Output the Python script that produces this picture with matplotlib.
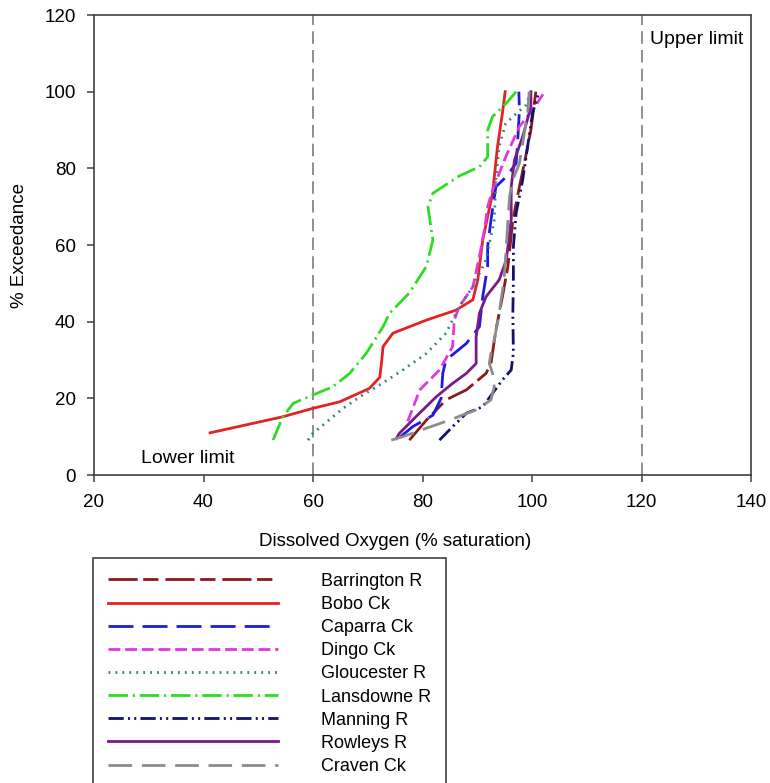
import numpy as np
import matplotlib.pyplot as plt

plt.rcParams['font.family'] = ['Liberation Sans', 'DejaVu Sans']
plt.rcParams['lines.scale_dashes'] = False

# % exceedance curves for each site: (DO % saturation, % exceedance)
barrington_x = [77.6, 80.7, 84.3, 88.0, 91.6, 92.5, 93.4, 94.6, 95.6, 96.5, 97.7, 98.6, 99.8, 100.7]
barrington_y = [9.1, 14.3, 19.6, 22.2, 26.5, 29.1, 37.8, 46.5, 54.4, 66.5, 75.2, 81.3, 90.0, 100.0]

bobo_x = [41.2, 54.5, 60.0, 64.9, 70.3, 72.2, 72.5, 72.8, 74.6, 80.7, 86.1, 89.2, 90.1, 91.0, 92.8, 93.7, 94.6, 95.1]
bobo_y = [11.0, 15.2, 17.4, 19.1, 22.6, 25.5, 29.1, 33.5, 37.0, 40.4, 43.0, 45.7, 50.9, 61.3, 73.5, 85.7, 94.4, 100.0]

caparra_x = [76.0, 78.2, 81.9, 83.4, 83.7, 84.3, 88.0, 90.4, 91.0, 91.9, 91.9, 92.5, 93.4, 95.3, 97.1, 97.4, 97.7, 97.6]
caparra_y = [10.0, 12.6, 15.6, 20.0, 26.5, 30.0, 34.3, 38.7, 46.5, 54.4, 59.6, 66.5, 75.2, 77.8, 81.3, 87.4, 95.2, 100.0]

dingo_x = [77.3, 79.5, 83.1, 85.5, 85.8, 86.7, 89.2, 90.4, 91.3, 91.9, 92.8, 95.2, 97.7, 100.1, 102.0]
dingo_y = [14.0, 22.2, 27.4, 33.5, 40.4, 43.9, 49.1, 57.0, 63.9, 70.0, 74.3, 83.0, 90.9, 95.2, 99.3]

gloucester_x = [59.1, 60.0, 61.8, 65.5, 69.1, 72.2, 76.4, 80.7, 84.3, 86.7, 89.2, 91.6, 93.1, 93.4, 94.0, 95.2, 96.5, 98.9, 99.5]
gloucester_y = [9.1, 10.9, 13.0, 17.4, 20.9, 23.5, 27.4, 31.7, 37.0, 43.9, 49.1, 56.1, 66.5, 77.0, 85.7, 91.7, 93.5, 96.5, 99.0]

lansdowne_x = [52.7, 54.5, 56.4, 60.0, 63.6, 66.7, 69.7, 72.8, 74.0, 77.6, 80.7, 81.9, 81.6, 81.0, 81.9, 86.7, 90.4, 91.9, 91.9, 92.8, 95.3, 97.1]
lansdowne_y = [9.1, 15.2, 18.7, 20.9, 23.0, 26.5, 31.7, 38.7, 42.2, 47.5, 54.4, 61.3, 64.0, 70.0, 73.5, 78.0, 80.4, 83.0, 90.0, 93.5, 97.0, 100.0]

manning_x = [83.1, 85.5, 88.0, 91.0, 94.6, 96.2, 96.6, 96.5, 96.6, 96.6, 97.1, 98.3, 99.2, 100.1, 101.3]
manning_y = [9.1, 12.6, 16.1, 17.8, 24.8, 27.4, 31.8, 42.2, 50.9, 59.6, 68.3, 77.0, 85.7, 94.4, 100.0]

rowleys_x = [75.2, 75.8, 78.8, 82.5, 85.5, 88.0, 89.8, 89.8, 90.4, 91.6, 94.0, 95.3, 96.2, 96.2, 96.8, 98.3, 99.8, 99.8]
rowleys_y = [9.5, 10.9, 15.2, 20.4, 23.9, 26.5, 29.1, 36.1, 42.2, 46.5, 50.9, 56.1, 66.5, 75.2, 82.2, 88.3, 96.0, 100.0]

craven_x = [74.3, 76.4, 80.7, 84.9, 89.8, 92.5, 93.1, 92.8, 92.2, 92.5, 93.1, 94.0, 94.9, 95.3, 95.6, 95.9, 96.5, 97.7, 99.2, 99.5]
craven_y = [9.1, 10.0, 12.2, 14.3, 17.0, 19.6, 23.0, 26.5, 29.1, 31.8, 35.2, 42.2, 50.9, 59.6, 66.5, 72.6, 77.0, 81.3, 94.4, 100.0]

site_names = ['Barrington R', 'Bobo Ck', 'Caparra Ck', 'Dingo Ck', 'Gloucester R',
              'Lansdowne R', 'Manning R', 'Rowleys R', 'Craven Ck']
site_x = [barrington_x, bobo_x, caparra_x, dingo_x, gloucester_x,
          lansdowne_x, manning_x, rowleys_x, craven_x]
site_y = [barrington_y, bobo_y, caparra_y, dingo_y, gloucester_y,
          lansdowne_y, manning_y, rowleys_y, craven_y]

lower_limit = 60
upper_limit = 120

colors = ['#8B1A1A', '#E3231F', '#1C1CE0', '#E236E2', '#2E8080',
          '#2EDC22', '#12126E', '#7A1A8A', '#8C8C8C']
dashes = [(0, (21, 4, 11, 5)), 'solid', (0, (18, 6.5)), (0, (8.5, 3.5)), (0, (1.3, 3.7)),
          (0, (14, 3.5, 1.5, 3.5)), (0, (11, 3, 1.5, 3, 1.5, 3)), 'solid', (0, (17, 7))]

fig = plt.figure(figsize=(7.7, 7.83), dpi=100)
ax = fig.add_axes([94 / 770, 1 - 475 / 783, (751 - 94) / 770, (475 - 15) / 783])

ax.plot([lower_limit, lower_limit], [0, 120], color='#707070', lw=1.1, ls=(0, (9, 4.5)))
ax.plot([upper_limit, upper_limit], [0, 120], color='#707070', lw=1.1, ls=(0, (9, 4.5)))

handles = []
for name, xs, ys, c, d in zip(site_names, site_x, site_y, colors, dashes):
    h, = ax.plot(xs, ys, color=c, ls=d, lw=2.0, label=name)
    handles.append(h)

ax.text(28.6, 4.3, 'Lower limit', fontsize=14, va='center', ha='left')
ax.text(121.6, 113.5, 'Upper limit', fontsize=14, va='center', ha='left')

ax.set_xlim(20, 140)
ax.set_ylim(0, 120)
ax.set_xticks(np.arange(20, 141, 20))
ax.set_yticks(np.arange(0, 121, 20))
ax.tick_params(direction='out', length=5, width=1.1, color='#404040', labelsize=13.5)
ax.tick_params(axis='y', pad=8)
ax.tick_params(axis='x', pad=9)
for s in ax.spines.values():
    s.set_color('#404040')
    s.set_linewidth(1.2)

ax.set_xlabel('Dissolved Oxygen (% saturation)', fontsize=13.5)
ax.xaxis.set_label_coords((395 - 94) / 657, -0.125)
ax.set_ylabel('% Exceedance', fontsize=13.5)
ax.yaxis.set_label_coords(-0.101, 0.5)

leg = fig.legend(handles=handles, loc='upper left', bbox_to_anchor=(93 / 770, 1 - 558 / 783),
                 fontsize=13, handlelength=9.4, handletextpad=2.4, labelspacing=0.34,
                 borderpad=0.82, borderaxespad=0, fancybox=False, framealpha=1)
leg.get_frame().set_edgecolor('#404040')
leg.get_frame().set_linewidth(1.2)

fig.savefig('out.png', dpi=100)
